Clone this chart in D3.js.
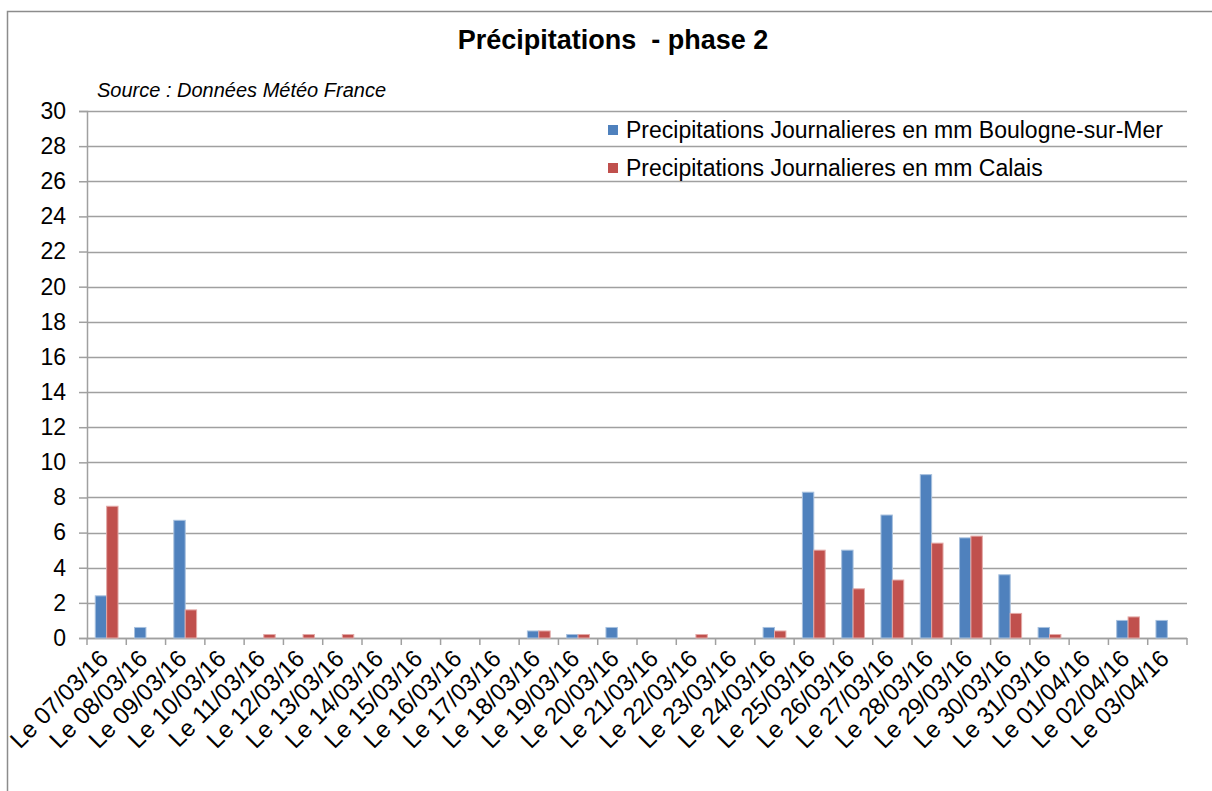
<!DOCTYPE html>
<html>
<head>
<meta charset="utf-8">
<script src="https://cdn.jsdelivr.net/npm/d3@7"></script>
<style>
  body { margin: 0; background: #fff; }
  text { font-family: "Liberation Sans", Arial, sans-serif; }
</style>
</head>
<body>
<div id="chart"></div>
<script>
var width = 1212;
var height = 791;

// daily values
var dates = ["Le 07/03/16", "Le 08/03/16", "Le 09/03/16", "Le 10/03/16", "Le 11/03/16",
    "Le 12/03/16", "Le 13/03/16", "Le 14/03/16", "Le 15/03/16", "Le 16/03/16",
    "Le 17/03/16", "Le 18/03/16", "Le 19/03/16", "Le 20/03/16", "Le 21/03/16",
    "Le 22/03/16", "Le 23/03/16", "Le 24/03/16", "Le 25/03/16", "Le 26/03/16",
    "Le 27/03/16", "Le 28/03/16", "Le 29/03/16", "Le 30/03/16", "Le 31/03/16",
    "Le 01/04/16", "Le 02/04/16", "Le 03/04/16"];
var boulogne = [2.4, 0.6, 6.7, 0, 0, 0, 0, 0, 0, 0, 0, 0.4, 0.2, 0.6, 0,
    0, 0, 0.6, 8.3, 5.0, 7.0, 9.3, 5.7, 3.6, 0.6, 0, 1.0, 1.0];
var calais = [7.5, 0, 1.6, 0, 0.2, 0.2, 0.2, 0, 0, 0, 0, 0.4, 0.2, 0, 0,
    0.2, 0, 0.4, 5.0, 2.8, 3.3, 5.4, 5.8, 1.4, 0.2, 0, 1.2, 0];
var seriesNames = ["Precipitations Journalieres en mm Boulogne-sur-Mer",
    "Precipitations Journalieres en mm Calais"];
var seriesColors = ["#4F81BD", "#C0504D"];
var seriesEdges = ["#A7C0DE", "#E3A9A7"];
var yTicks = d3.range(0, 31, 2);

var margin = {top: 111, right: 25, bottom: 153, left: 87};

var svg = d3.select("#chart").append("svg")
    .attr("width", width)
    .attr("height", height);

// outer frame of the chart area
svg.append("rect")
    .attr("x", 7.5).attr("y", 11.5)
    .attr("width", 1230).attr("height", 800)
    .attr("fill", "none")
    .attr("stroke", "#8c8c8c")
    .attr("stroke-width", 1.5);

var x0 = d3.scaleBand()
    .domain(dates)
    .range([margin.left, width - margin.right]);

var x1 = d3.scaleBand()
    .domain([0, 1])
    .range([x0.bandwidth() * 0.21, x0.bandwidth() * 0.79]);

var y = d3.scaleLinear()
    .domain([0, 30])
    .range([height - margin.bottom, margin.top]);

// gridlines
svg.append("g")
    .selectAll("line")
    .data(yTicks)
    .join("line")
    .attr("x1", margin.left)
    .attr("x2", width - margin.right)
    .attr("y1", function(d) { return Math.round(y(d)) + 0.5; })
    .attr("y2", function(d) { return Math.round(y(d)) + 0.5; })
    .attr("stroke", "#a0a0a0")
    .attr("stroke-width", 1.5);

// y axis
var yAxis = svg.append("g")
    .attr("transform", "translate(" + margin.left + ",0)")
    .call(d3.axisLeft(y).tickValues(yTicks).tickSize(8).tickPadding(13));
yAxis.selectAll("text")
    .attr("font-size", 23)
    .attr("fill", "#000");
yAxis.selectAll("line, path").attr("stroke", "#a0a0a0").attr("stroke-width", 1.5);

// x axis, ticks on band boundaries
var xAxis = svg.append("g")
    .attr("transform", "translate(0," + y(0) + ")");
xAxis.append("line")
    .attr("x1", margin.left).attr("x2", width - margin.right)
    .attr("y1", 0.5).attr("y2", 0.5)
    .attr("stroke", "#a0a0a0").attr("stroke-width", 1.5);
xAxis.selectAll(".tk")
    .data(dates.concat(["end"]))
    .join("line")
    .attr("class", "tk")
    .attr("x1", function(d, i) { return margin.left + i * x0.step(); })
    .attr("x2", function(d, i) { return margin.left + i * x0.step(); })
    .attr("y1", 0).attr("y2", 7)
    .attr("stroke", "#a0a0a0").attr("stroke-width", 1.5);
xAxis.selectAll(".lbl")
    .data(dates)
    .join("text")
    .attr("class", "lbl")
    .attr("text-anchor", "end")
    .attr("font-size", 24)
    .attr("transform", function(d) {
        return "translate(" + (x0(d) + x0.bandwidth() / 2 + 3) + ",22) rotate(-45)";
    })
    .text(function(d) { return d; });

// bars
var groups = svg.append("g")
    .selectAll("g")
    .data(dates)
    .join("g")
    .attr("transform", function(d) { return "translate(" + x0(d) + ",0)"; });

groups.selectAll("rect")
    .data(function(d, i) { return [boulogne[i], calais[i]]; })
    .join("rect")
    .attr("x", function(d, j) { return x1(j); })
    .attr("width", x1.bandwidth())
    .attr("y", function(d) { return y(d); })
    .attr("height", function(d) { return y(0) - y(d); })
    .attr("fill", function(d, j) { return seriesColors[j]; })
    .attr("stroke", function(d, j) { return d > 0 ? seriesEdges[j] : "none"; })
    .attr("stroke-width", 1);

// title and source
svg.append("text")
    .attr("x", 613).attr("y", 49)
    .attr("text-anchor", "middle")
    .attr("font-size", 27)
    .attr("font-weight", "bold")
    .attr("xml:space", "preserve")
    .text("Précipitations  - phase 2");

svg.append("text")
    .attr("x", 97).attr("y", 97)
    .attr("font-size", 20)
    .attr("font-style", "italic")
    .text("Source : Données Météo France");

// legend
var legend = svg.append("g")
    .selectAll("g")
    .data(seriesNames)
    .join("g")
    .attr("transform", function(d, i) { return "translate(608," + (130 + i * 38) + ")"; });
legend.append("rect")
    .attr("x", 0).attr("y", -5)
    .attr("width", 10).attr("height", 10)
    .attr("fill", function(d, i) { return seriesColors[i]; });
legend.append("text")
    .attr("x", 18).attr("y", 8)
    .attr("font-size", 23)
    .text(function(d) { return d; });
</script>
</body>
</html>
